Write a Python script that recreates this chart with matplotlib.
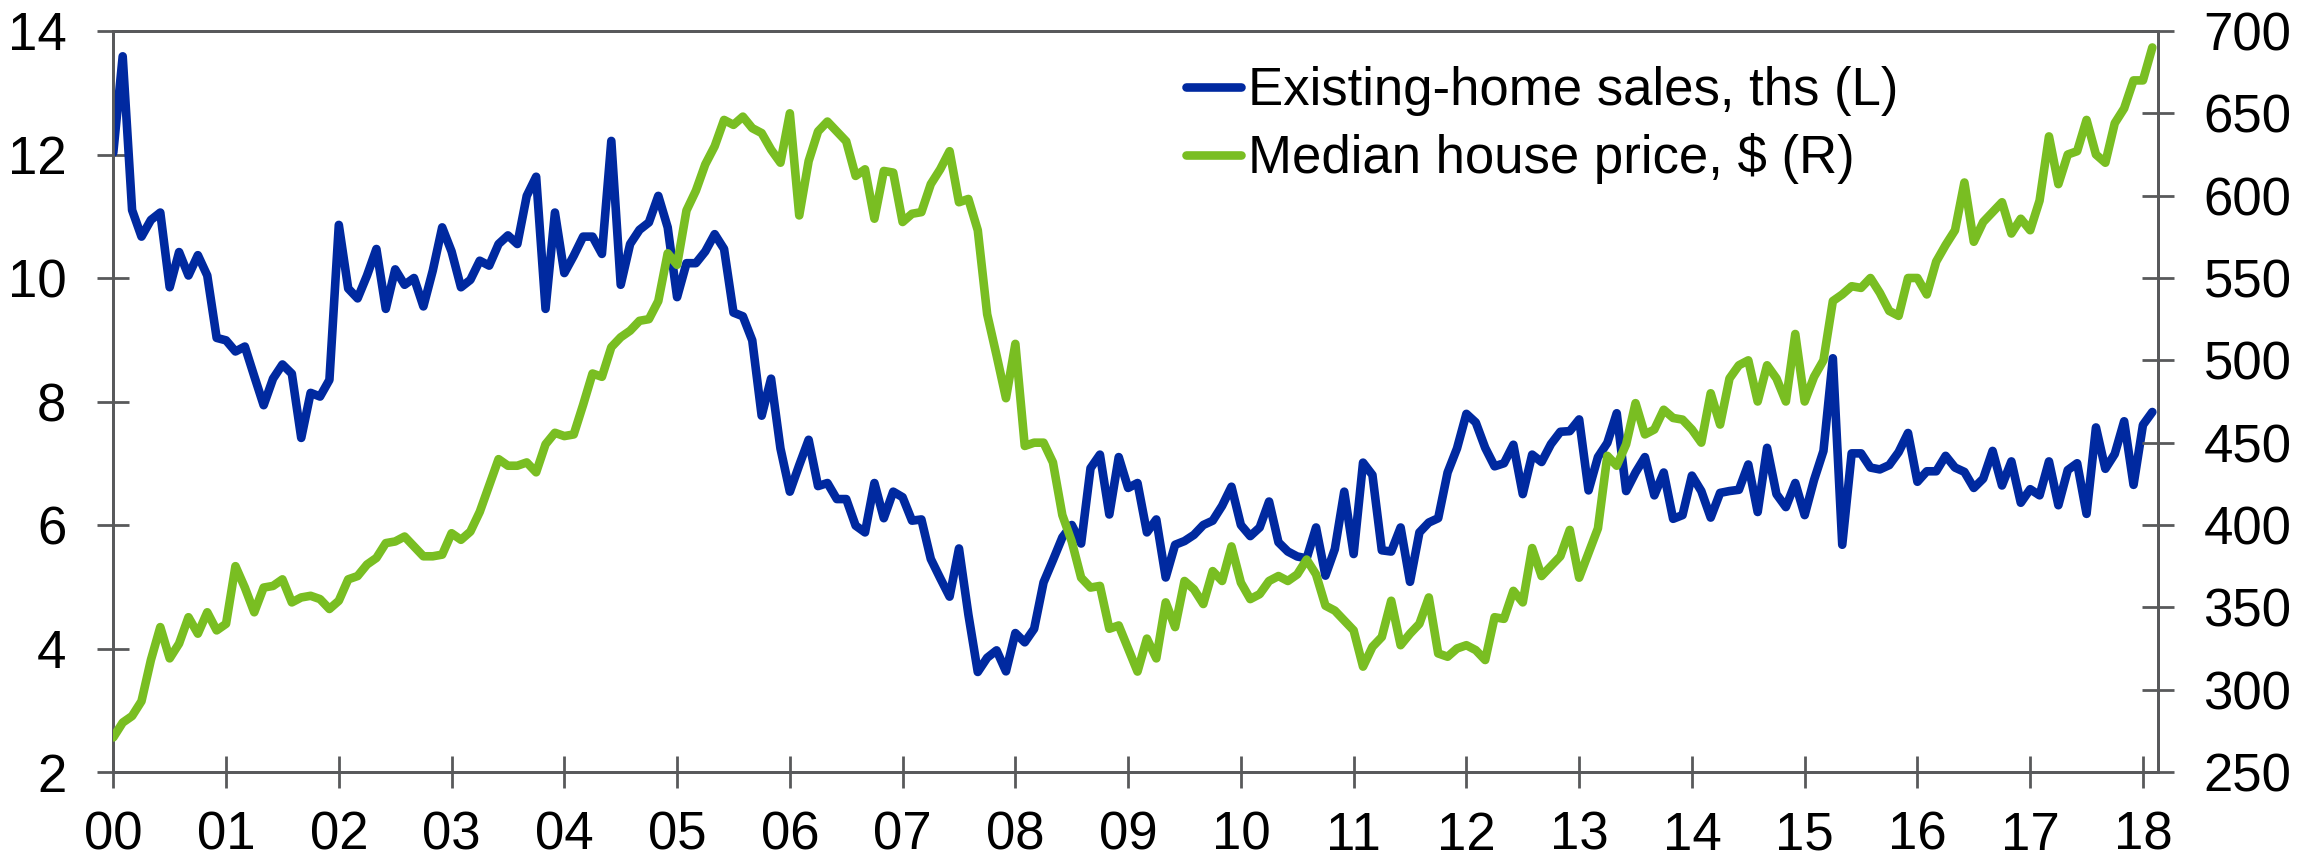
import numpy as np
import matplotlib
matplotlib.use("Agg")
import matplotlib.pyplot as plt

# Monthly data, Jan 2000 - Feb 2018
sales = [12.03, 13.59, 11.10, 10.67, 10.94, 11.06, 9.85, 10.42, 10.04, 10.37, 10.04, 9.03,
         8.99, 8.81, 8.89, 8.41, 7.94, 8.37, 8.60, 8.45, 7.41, 8.14, 8.08, 8.35,
         10.86, 9.83, 9.67, 10.04, 10.47, 9.50, 10.14, 9.89, 10.00, 9.54, 10.12, 10.82,
         10.43, 9.85, 9.97, 10.28, 10.20, 10.55, 10.69, 10.55, 11.33, 11.64, 9.50, 11.06,
         10.08, 10.36, 10.67, 10.67, 10.39, 12.22, 9.89, 10.55, 10.78, 10.90, 11.33, 10.82,
         9.69, 10.24, 10.24, 10.43, 10.71, 10.47, 9.44, 9.38, 8.99, 7.77, 8.37, 7.24,
         6.54, 6.97, 7.38, 6.63, 6.68, 6.42, 6.42, 5.99, 5.88, 6.68, 6.11, 6.54,
         6.45, 6.07, 6.09, 5.45, 5.14, 4.84, 5.62, 4.55, 3.62, 3.85, 3.97, 3.63,
         4.25, 4.10, 4.32, 5.07, 5.43, 5.80, 6.00, 5.70, 6.92, 7.14, 6.17, 7.10,
         6.60, 6.68, 5.88, 6.09, 5.15, 5.68, 5.74, 5.84, 6.00, 6.07, 6.31, 6.62,
         6.00, 5.82, 5.96, 6.38, 5.72, 5.57, 5.49, 5.46, 5.96, 5.18, 5.61, 6.54,
         5.53, 7.01, 6.81, 5.59, 5.57, 5.96, 5.08, 5.88, 6.04, 6.11, 6.85, 7.24,
         7.80, 7.66, 7.25, 6.95, 7.00, 7.30, 6.50, 7.14, 7.02, 7.31, 7.51, 7.52,
         7.71, 6.56, 7.10, 7.33, 7.81, 6.55, 6.85, 7.10, 6.48, 6.85, 6.10, 6.16,
         6.80, 6.55, 6.12, 6.52, 6.55, 6.57, 6.98, 6.21, 7.25, 6.50, 6.29, 6.68,
         6.16, 6.73, 7.20, 8.70, 5.68, 7.16, 7.16, 6.93, 6.90, 6.97, 7.18, 7.49,
         6.70, 6.87, 6.87, 7.12, 6.93, 6.86, 6.60, 6.75, 7.20, 6.64, 7.03, 6.36,
         6.58, 6.48, 7.03, 6.32, 6.89, 7.00, 6.18, 7.58, 6.91, 7.15, 7.68, 6.65,
         7.62, 7.83]

price = [271, 280, 284, 293, 318, 338, 319, 328, 344, 334, 347, 336,
         340, 375, 362, 347, 362, 363, 367, 353, 356, 357, 355, 349,
         354, 367, 369, 376, 380, 389, 390, 393, 387, 381, 381, 382,
         395, 391, 396, 408, 424, 440, 436, 436, 438, 432, 449, 456,
         454, 455, 473, 492, 490, 508, 514, 518, 524, 525, 536, 565,
         558, 591, 603, 619, 630, 646, 643, 648, 641, 638, 628, 620,
         650, 588, 621, 639, 645, 639, 633, 612, 616, 586, 615, 614,
         584, 589, 590, 607, 616, 627, 596, 598, 579, 528, 503, 477,
         510, 448, 450, 450, 438, 406, 390, 368, 362, 363, 337, 339,
         325, 311, 331, 319, 353, 338, 366, 361, 352, 372, 366, 387,
         365, 355, 358, 366, 369, 366, 370, 379, 370, 351, 348, 342,
         336, 314, 326, 332, 354, 327, 334, 340, 356, 322, 320, 325,
         327, 324, 318, 344, 343, 360, 353, 386, 369, 375, 381, 397,
         368, 383, 398, 442, 436, 449, 474, 455, 458, 470, 465, 464,
         458, 450, 480, 461, 489, 497, 500, 475, 497, 489, 475, 516,
         475, 490, 500, 536, 540, 545, 544, 550, 541, 530, 527, 550,
         550, 540, 560, 570, 579, 608, 572, 584, 590, 596, 577, 586,
         579, 597, 636, 607, 625, 627, 646, 625, 620, 644, 653, 670,
         670, 690]

year_labels = ["00", "01", "02", "03", "04", "05", "06", "07", "08", "09",
               "10", "11", "12", "13", "14", "15", "16", "17", "18"]
left_ticks = [2, 4, 6, 8, 10, 12, 14]
right_ticks = [250, 300, 350, 400, 450, 500, 550, 600, 650, 700]

series_names = ["Existing-home sales, ths (L)", "Median house price, $ (R)"]

BLUE = "#0029A0"
GREEN = "#79BE22"
GRAY = "#58595B"

plt.rcParams["font.family"] = ["Liberation Sans", "DejaVu Sans"]
FS = 38

W, H = 2323, 859
fig = plt.figure(figsize=(W / 100, H / 100), dpi=100)
L, R, T, B = 113.3, 2157.5, 31, 772
ax = fig.add_axes([L / W, 1 - B / H, (R - L) / W, (B - T) / H])
ax2 = ax.twinx()

months = np.arange(len(sales))
l1, = ax.plot(months, sales, color=BLUE, lw=6.2, solid_joinstyle="round",
              solid_capstyle="round", zorder=3)
l2, = ax2.plot(months, price, color=GREEN, lw=6.2, solid_joinstyle="round",
               solid_capstyle="round", zorder=3)

ax.set_xlim(0, 217.55)
ax.set_ylim(2, 14)
ax2.set_ylim(250, 700)

ax.set_xticks(np.arange(0, 12 * len(year_labels), 12))
ax.set_xticklabels(year_labels)
ax.set_yticks(left_ticks)
ax.set_yticklabels([str(v) for v in left_ticks])
ax2.set_yticks(right_ticks)
ax2.set_yticklabels([str(v) for v in right_ticks])

for a in (ax, ax2):
    for s in a.spines.values():
        s.set_color(GRAY)
        s.set_linewidth(2.0)

ax.tick_params(axis="x", direction="inout", length=22.7, width=2.0, color=GRAY,
               labelsize=FS, pad=16.5, labelcolor="black")
ax.tick_params(axis="y", direction="inout", length=22.7, width=2.0, color=GRAY,
               labelsize=FS, pad=22.5, labelcolor="black")
ax2.tick_params(axis="y", direction="inout", length=22.7, width=2.0, color=GRAY,
                labelsize=FS, pad=21.7, labelcolor="black")

leg = ax2.legend([l1, l2], series_names, loc="upper left",
                 bbox_to_anchor=(1186 / W, 1 - 66 / H), bbox_transform=fig.transFigure,
                 frameon=False, fontsize=FS, handlelength=1.05, handletextpad=0.12,
                 borderpad=0, borderaxespad=0, labelspacing=0.33)

fig.savefig("out.png", dpi=100)
